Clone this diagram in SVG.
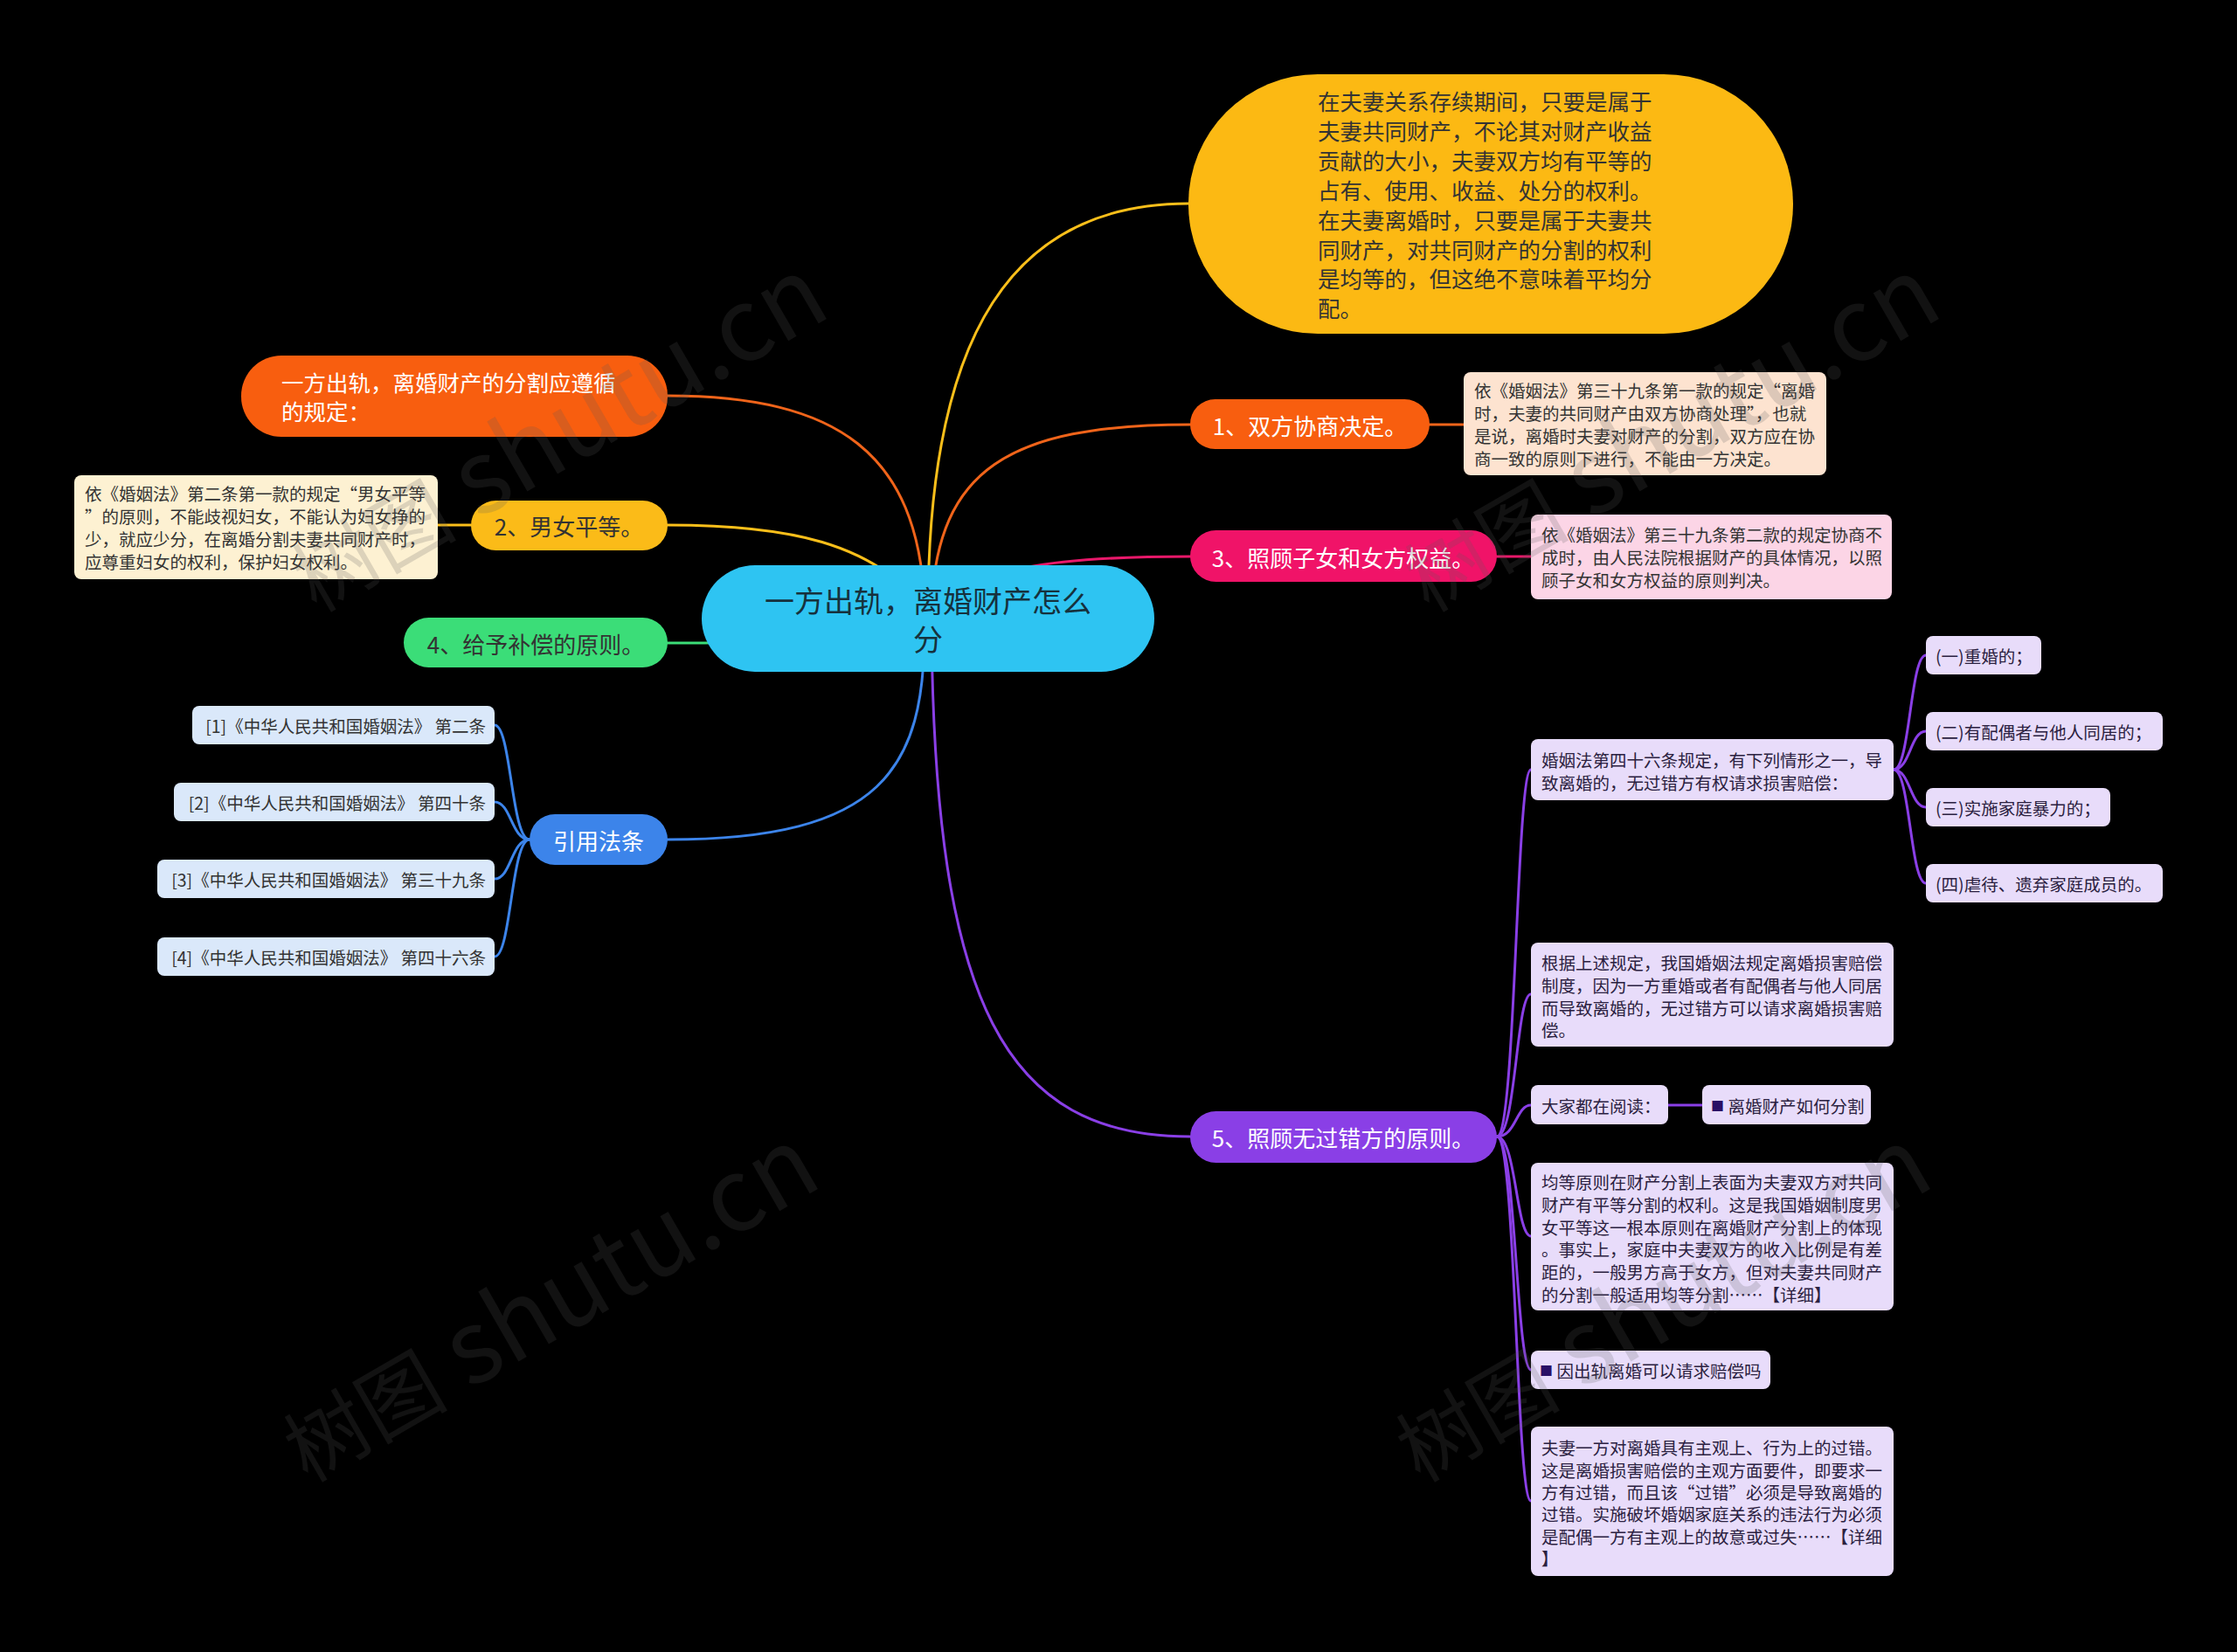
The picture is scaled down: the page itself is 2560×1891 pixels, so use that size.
<svg xmlns="http://www.w3.org/2000/svg" width="2560" height="1891" viewBox="0 0 2560 1891">
<style>
text{font-family:"Noto Sans CJK SC","Noto Sans",sans-serif;dominant-baseline:central}
.c{fill:none;stroke-width:3;stroke-linecap:round}
.t1{font-size:26px}
.d{font-size:19.5px;fill:#333}
.dl{font-size:19.5px;fill:#2b2140}
.w{fill:#fff}
.k{fill:#333}
.mid{text-anchor:middle}
.end{text-anchor:end}
.wm{fill:#5a5a5a;fill-opacity:0.2;font-family:"Liberation Serif","Noto Sans CJK SC",serif}
</style>
<rect width="2560" height="1891" fill="#000"/>
<g id="connectors">
<path class="c" stroke="#FBBF1A" d="M1062 700 C1062 380 1160 233 1360 233"/>
<path class="c" stroke="#F0641A" d="M1058 690 C1050 520 960 453 764 453"/>
<path class="c" stroke="#F0641A" d="M1066 690 C1075 540 1150 486 1362 486"/>
<path class="c" stroke="#E8186A" d="M1062 700 C1120 650 1200 637 1362 637"/>
<path class="c" stroke="#FBBF1A" d="M1062 700 C1000 620 900 601 764 601"/>
<path class="c" stroke="#3BDD78" d="M1062 720 C950 736 850 736 764 736"/>
<path class="c" stroke="#3C84EA" d="M1058 720 C1058 880 1010 961 764 961"/>
<path class="c" stroke="#8A3FE6" d="M1066 720 C1070 1150 1150 1301 1362 1301"/>
<path class="c" stroke="#F0641A" d="M1636 486 L1675 486"/>
<path class="c" stroke="#E8186A" d="M1713 637 L1752 637"/>
<path class="c" stroke="#FBBF1A" d="M539 601 L501 601"/>
<path class="c" stroke="#3C84EA" d="M606 961 C585 961 585 830 566 830"/>
<path class="c" stroke="#3C84EA" d="M606 961 C585 961 585 918 566 918"/>
<path class="c" stroke="#3C84EA" d="M606 961 C585 961 585 1006 566 1006"/>
<path class="c" stroke="#3C84EA" d="M606 961 C585 961 585 1095 566 1095"/>
<path class="c" stroke="#8A3FE6" d="M1713 1301 C1735 1301 1735 881 1752 881"/>
<path class="c" stroke="#8A3FE6" d="M1713 1301 C1735 1301 1735 1138 1752 1138"/>
<path class="c" stroke="#8A3FE6" d="M1713 1301 C1735 1301 1735 1265 1752 1265"/>
<path class="c" stroke="#8A3FE6" d="M1713 1301 C1735 1301 1735 1415 1752 1415"/>
<path class="c" stroke="#8A3FE6" d="M1713 1301 C1735 1301 1735 1568 1752 1568"/>
<path class="c" stroke="#8A3FE6" d="M1713 1301 C1735 1301 1735 1718 1752 1718"/>
<path class="c" stroke="#8A3FE6" d="M1909 1265 L1948 1265"/>
<path class="c" stroke="#8A3FE6" d="M2167 881 C2186 881 2186 750 2204 750"/>
<path class="c" stroke="#8A3FE6" d="M2167 881 C2186 881 2186 837 2204 837"/>
<path class="c" stroke="#8A3FE6" d="M2167 881 C2186 881 2186 924 2204 924"/>
<path class="c" stroke="#8A3FE6" d="M2167 881 C2186 881 2186 1011 2204 1011"/>
</g>
<g id="center">
<rect x="803" y="647" width="518" height="122" rx="61" fill="#2EC4F2"/>
<text x="1062" y="686" class="mid" font-size="34" fill="#16313d">一方出轨，离婚财产怎么</text>
<text x="1062" y="730" class="mid" font-size="34" fill="#16313d">分</text>
</g>
<g id="summary">
<rect x="1360" y="85" width="692" height="297" rx="148" fill="#FCB913"/>
<g font-size="25.5" fill="#333">
<text x="1508" y="114">在夫妻关系存续期间，只要是属于</text>
<text x="1508" y="148">夫妻共同财产，不论其对财产收益</text>
<text x="1508" y="182">贡献的大小，夫妻双方均有平等的</text>
<text x="1508" y="216">占有、使用、收益、处分的权利。</text>
<text x="1508" y="250">在夫妻离婚时，只要是属于夫妻共</text>
<text x="1508" y="284">同财产，对共同财产的分割的权利</text>
<text x="1508" y="317">是均等的，但这绝不意味着平均分</text>
<text x="1508" y="351">配。</text>
</g>
</g>
<g id="rule">
<rect x="276" y="407" width="488" height="93" rx="46" fill="#F85E0F"/>
<text x="322" y="436" class="w" font-size="25.5">一方出轨，离婚财产的分割应遵循</text>
<text x="322" y="469" class="w" font-size="25.5">的规定：</text>
</g>
<g id="n1">
<rect x="1362" y="457" width="274" height="57" rx="28.5" fill="#F85E0F"/>
<text x="1499" y="486" class="t1 w mid">1、双方协商决定。</text>
</g>
<g id="n1d">
<rect x="1675" y="426" width="415" height="118" rx="8" fill="#FDE3D0"/>
<text x="1687" y="446" class="d">依《婚姻法》第三十九条第一款的规定“离婚</text>
<text x="1687" y="472" class="d">时，夫妻的共同财产由双方协商处理”，也就</text>
<text x="1687" y="498" class="d">是说，离婚时夫妻对财产的分割，双方应在协</text>
<text x="1687" y="524" class="d">商一致的原则下进行，不能由一方决定。</text>
</g>
<g id="n3">
<rect x="1362" y="607" width="351" height="59" rx="29.5" fill="#F01368"/>
<text x="1537" y="637" class="t1 w mid">3、照顾子女和女方权益。</text>
</g>
<g id="n3d">
<rect x="1752" y="589" width="413" height="97" rx="8" fill="#FCD5E6"/>
<text x="1764" y="611" class="d">依《婚姻法》第三十九条第二款的规定协商不</text>
<text x="1764" y="637" class="d">成时，由人民法院根据财产的具体情况，以照</text>
<text x="1764" y="663" class="d">顾子女和女方权益的原则判决。</text>
</g>
<g id="n2">
<rect x="539" y="573" width="225" height="57" rx="28.5" fill="#FBBB18"/>
<text x="651" y="601" class="t1 k mid">2、男女平等。</text>
</g>
<g id="n2d">
<rect x="85" y="544" width="416" height="119" rx="8" fill="#FDF1D2"/>
<text x="97" y="564" class="d">依《婚姻法》第二条第一款的规定“男女平等</text>
<text x="97" y="590" class="d">”的原则，不能歧视妇女，不能认为妇女挣的</text>
<text x="97" y="616" class="d">少，就应少分，在离婚分割夫妻共同财产时，</text>
<text x="97" y="642" class="d">应尊重妇女的权利，保护妇女权利。</text>
</g>
<g id="n4">
<rect x="462" y="707" width="302" height="57" rx="28.5" fill="#3BDD78"/>
<text x="613" y="736" class="t1 k mid">4、给予补偿的原则。</text>
</g>
<g id="refs">
<rect x="606" y="932" width="158" height="58" rx="29" fill="#3C84EA"/>
<text x="685" y="961" class="t1 w mid">引用法条</text>
</g>
<g id="ref1">
<rect x="220" y="808" width="346" height="44" rx="8" fill="#DAE8FA"/>
<text x="556" y="830" class="d end">[1]《中华人民共和国婚姻法》 第二条</text>
</g>
<g id="ref2">
<rect x="199" y="896" width="367" height="44" rx="8" fill="#DAE8FA"/>
<text x="556" y="918" class="d end">[2]《中华人民共和国婚姻法》 第四十条</text>
</g>
<g id="ref3">
<rect x="180" y="984" width="386" height="44" rx="8" fill="#DAE8FA"/>
<text x="556" y="1006" class="d end">[3]《中华人民共和国婚姻法》 第三十九条</text>
</g>
<g id="ref4">
<rect x="180" y="1073" width="386" height="44" rx="8" fill="#DAE8FA"/>
<text x="556" y="1095" class="d end">[4]《中华人民共和国婚姻法》 第四十六条</text>
</g>
<g id="n5">
<rect x="1362" y="1272" width="351" height="59" rx="29.5" fill="#8A3FE6"/>
<text x="1537" y="1301" class="t1 w mid">5、照顾无过错方的原则。</text>
</g>
<g id="n5a">
<rect x="1752" y="846" width="415" height="70" rx="8" fill="#E8DCFA"/>
<text x="1764" y="869" class="dl">婚姻法第四十六条规定，有下列情形之一，导</text>
<text x="1764" y="895" class="dl">致离婚的，无过错方有权请求损害赔偿：</text>
</g>
<g id="n5a1">
<rect x="2204" y="728" width="132" height="44" rx="8" fill="#E8DCFA"/>
<text x="2215" y="750" class="dl">(一)重婚的；</text>
</g>
<g id="n5a2">
<rect x="2204" y="815" width="271" height="44" rx="8" fill="#E8DCFA"/>
<text x="2215" y="837" class="dl">(二)有配偶者与他人同居的；</text>
</g>
<g id="n5a3">
<rect x="2204" y="902" width="211" height="44" rx="8" fill="#E8DCFA"/>
<text x="2215" y="924" class="dl">(三)实施家庭暴力的；</text>
</g>
<g id="n5a4">
<rect x="2204" y="989" width="271" height="44" rx="8" fill="#E8DCFA"/>
<text x="2215" y="1011" class="dl">(四)虐待、遗弃家庭成员的。</text>
</g>
<g id="n5b">
<rect x="1752" y="1079" width="415" height="119" rx="8" fill="#E8DCFA"/>
<text x="1764" y="1101" class="dl">根据上述规定，我国婚姻法规定离婚损害赔偿</text>
<text x="1764" y="1127" class="dl">制度，因为一方重婚或者有配偶者与他人同居</text>
<text x="1764" y="1153" class="dl">而导致离婚的，无过错方可以请求离婚损害赔</text>
<text x="1764" y="1178" class="dl">偿。</text>
</g>
<g id="n5c">
<rect x="1752" y="1242" width="157" height="45" rx="8" fill="#E8DCFA"/>
<text x="1764" y="1265" class="dl">大家都在阅读：</text>
</g>
<g id="n5c1">
<rect x="1948" y="1242" width="193" height="45" rx="8" fill="#E8DCFA"/>
<text x="1958" y="1265" class="dl"><tspan fill="#2a0f66" font-size="15">■</tspan> 离婚财产如何分割</text>
</g>
<g id="n5d">
<rect x="1752" y="1331" width="415" height="169" rx="8" fill="#E8DCFA"/>
<text x="1764" y="1352" class="dl">均等原则在财产分割上表面为夫妻双方对共同</text>
<text x="1764" y="1378" class="dl">财产有平等分割的权利。这是我国婚姻制度男</text>
<text x="1764" y="1404" class="dl">女平等这一根本原则在离婚财产分割上的体现</text>
<text x="1764" y="1429" class="dl">。事实上，家庭中夫妻双方的收入比例是有差</text>
<text x="1764" y="1455" class="dl">距的，一般男方高于女方，但对夫妻共同财产</text>
<text x="1764" y="1481" class="dl">的分割一般适用均等分割……【详细】</text>
</g>
<g id="n5e">
<rect x="1752" y="1546" width="274" height="44" rx="8" fill="#E8DCFA"/>
<text x="1762" y="1568" class="dl"><tspan fill="#2a0f66" font-size="15">■</tspan> 因出轨离婚可以请求赔偿吗</text>
</g>
<g id="n5f">
<rect x="1752" y="1633" width="415" height="171" rx="8" fill="#E8DCFA"/>
<text x="1764" y="1656" class="dl">夫妻一方对离婚具有主观上、行为上的过错。</text>
<text x="1764" y="1682" class="dl">这是离婚损害赔偿的主观方面要件，即要求一</text>
<text x="1764" y="1707" class="dl">方有过错，而且该“过错”必须是导致离婚的</text>
<text x="1764" y="1732" class="dl">过错。实施破坏婚姻家庭关系的违法行为必须</text>
<text x="1764" y="1758" class="dl">是配偶一方有主观上的故意或过失……【详细</text>
<text x="1764" y="1783" class="dl">】</text>
</g>
<g id="watermarks" class="wm">
<text transform="translate(362,702) rotate(-30)" style="dominant-baseline:alphabetic"><tspan font-size="94">树图</tspan><tspan font-size="116"> shutu.cn</tspan></text>
<text transform="translate(1635,702) rotate(-30)" style="dominant-baseline:alphabetic"><tspan font-size="94">树图</tspan><tspan font-size="116"> shutu.cn</tspan></text>
<text transform="translate(352,1698) rotate(-30)" style="dominant-baseline:alphabetic"><tspan font-size="94">树图</tspan><tspan font-size="116"> shutu.cn</tspan></text>
<text transform="translate(1625,1698) rotate(-30)" style="dominant-baseline:alphabetic"><tspan font-size="94">树图</tspan><tspan font-size="116"> shutu.cn</tspan></text>
</g>
</svg>
